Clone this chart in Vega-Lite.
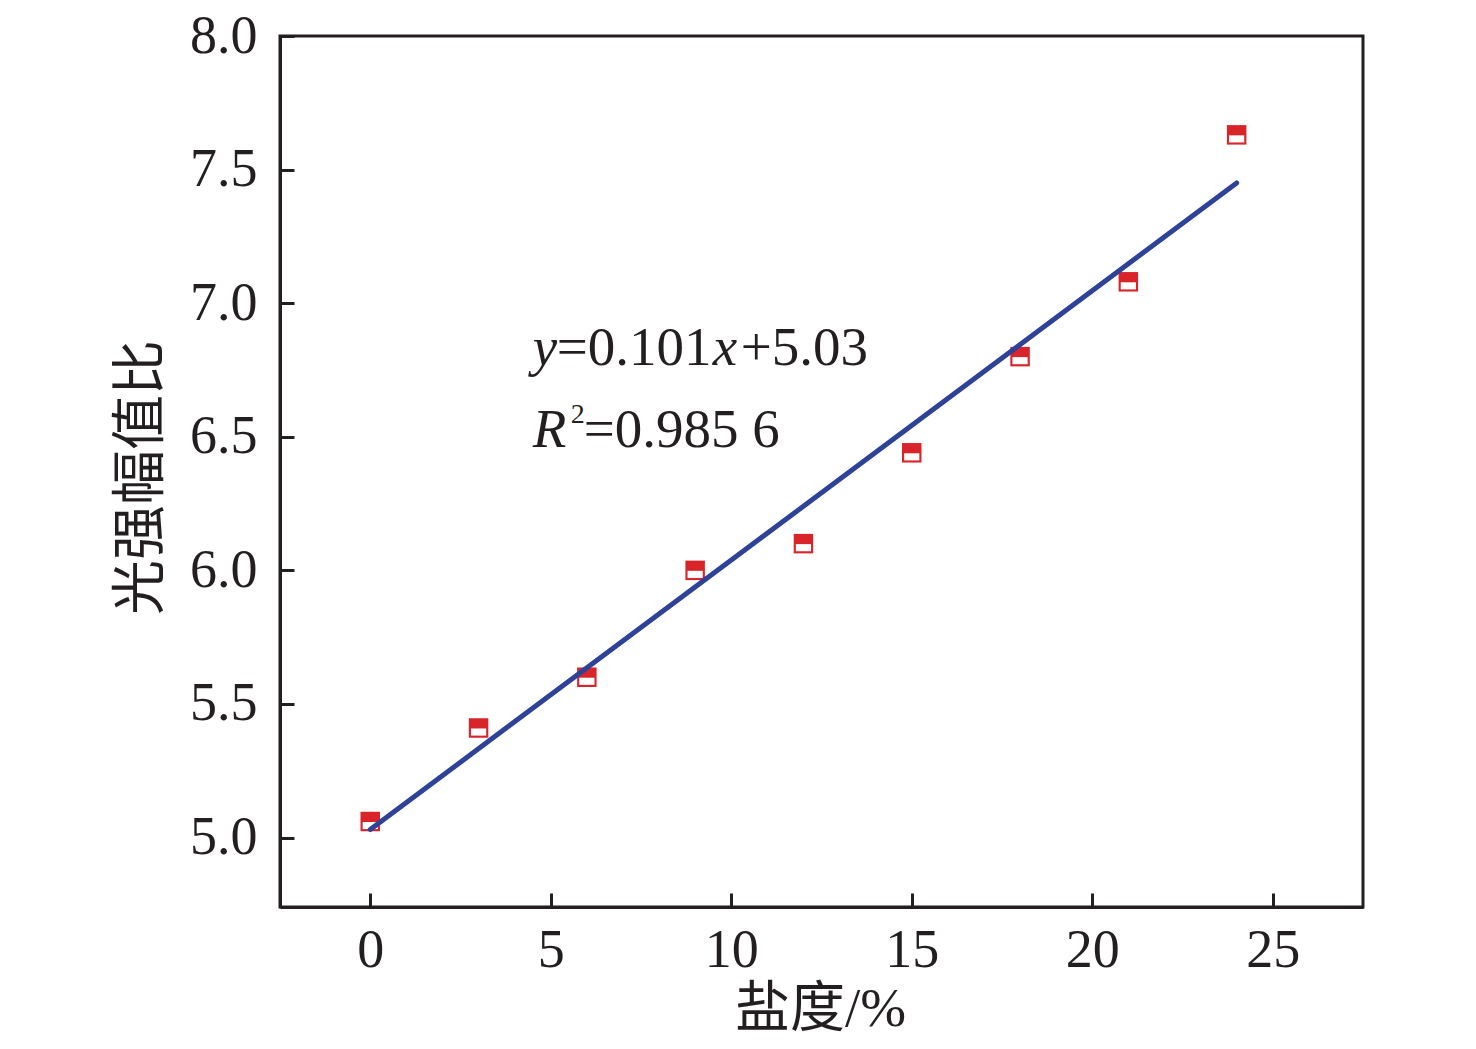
{
  "$schema": "https://vega.github.io/schema/vega-lite/v6.json",
  "description": "Light intensity amplitude ratio vs salinity with linear fit",
  "autosize": {"type": "none"},
  "width": 1083,
  "height": 871,
  "padding": {"left": 280, "top": 36, "right": 113, "bottom": 142},
  "background": "white",
  "config": {
    "view": {"stroke": "#231f20", "strokeWidth": 3},
    "font": "Liberation Serif, Noto Sans CJK SC",
    "axis": {
      "grid": false,
      "domainColor": "#231f20",
      "domainWidth": 3,
      "tickColor": "#231f20",
      "tickWidth": 3,
      "tickSize": -14,
      "labelFont": "Liberation Serif",
      "labelFontSize": 54,
      "labelColor": "#231f20",
      "titleFont": "Liberation Serif, Noto Sans CJK SC",
      "titleFontSize": 55,
      "titleFontWeight": "normal",
      "titleColor": "#231f20"
    }
  },
  "layer": [
    {
      "data": {
        "values": [
          {"salinity": 0, "ratio": 5.06},
          {"salinity": 3, "ratio": 5.41},
          {"salinity": 6, "ratio": 5.6},
          {"salinity": 9, "ratio": 6.0},
          {"salinity": 12, "ratio": 6.1},
          {"salinity": 15, "ratio": 6.44},
          {"salinity": 18, "ratio": 6.8},
          {"salinity": 21, "ratio": 7.08},
          {"salinity": 24, "ratio": 7.63}
        ]
      },
      "layer": [
        {
          "mark": {"type": "point", "shape": "square", "filled": true, "size": 380, "color": "#d9252a", "opacity": 1},
          "encoding": {
            "x": {
              "field": "salinity", "type": "quantitative",
              "scale": {"domain": [-2.5, 27.5], "nice": false, "zero": false},
              "axis": {
                "values": [0, 5, 10, 15, 20, 25],
                "labelPadding": 30,
                "title": "盐度/%",
                "titleX": 540,
                "titleY": 101,
                "titleBaseline": "middle",
                "titleAlign": "center"
              }
            },
            "y": {
              "field": "ratio", "type": "quantitative",
              "scale": {"domain": [4.74, 8.0], "nice": false, "zero": false},
              "axis": {
                "values": [5.0, 5.5, 6.0, 6.5, 7.0, 7.5, 8.0],
                "format": ".1f",
                "labelPadding": 37,
                "title": "光强幅值比",
                "titleX": -140,
                "titleY": 441,
                "titleAngle": -90,
                "titleBaseline": "middle",
                "titleAlign": "center"
              }
            }
          }
        },
        {
          "mark": {"type": "point", "shape": "M -0.78 0.05 H 0.78 V 0.78 H -0.78 Z", "filled": true, "size": 380, "color": "white", "opacity": 1},
          "encoding": {
            "x": {"field": "salinity", "type": "quantitative"},
            "y": {"field": "ratio", "type": "quantitative"}
          }
        }
      ]
    },
    {
      "data": {
        "values": [
          {"salinity": 0, "ratio": 5.03},
          {"salinity": 24, "ratio": 7.45}
        ]
      },
      "mark": {"type": "line", "color": "#2e4297", "strokeWidth": 5, "strokeCap": "round"},
      "encoding": {
        "x": {"field": "salinity", "type": "quantitative"},
        "y": {"field": "ratio", "type": "quantitative"}
      }
    },
    {
      "data": {"values": [{"salinity": 4.5, "ratio": 6.769, "t": "y"}]},
      "mark": {"type": "text", "align": "left", "baseline": "alphabetic", "fontSize": 55, "fontStyle": "italic", "font": "Liberation Serif", "color": "#231f20"},
      "encoding": {
        "x": {"field": "salinity", "type": "quantitative"},
        "y": {"field": "ratio", "type": "quantitative"},
        "text": {"field": "t"}
      }
    },
    {
      "data": {"values": [{"salinity": 4.5, "ratio": 6.769, "t": "=0.101"}]},
      "mark": {"type": "text", "align": "left", "baseline": "alphabetic", "fontSize": 55, "dx": 24, "font": "Liberation Serif", "color": "#231f20"},
      "encoding": {
        "x": {"field": "salinity", "type": "quantitative"},
        "y": {"field": "ratio", "type": "quantitative"},
        "text": {"field": "t"}
      }
    },
    {
      "data": {"values": [{"salinity": 4.5, "ratio": 6.769, "t": "x"}]},
      "mark": {"type": "text", "align": "left", "baseline": "alphabetic", "fontSize": 55, "fontStyle": "italic", "dx": 180, "font": "Liberation Serif", "color": "#231f20"},
      "encoding": {
        "x": {"field": "salinity", "type": "quantitative"},
        "y": {"field": "ratio", "type": "quantitative"},
        "text": {"field": "t"}
      }
    },
    {
      "data": {"values": [{"salinity": 4.5, "ratio": 6.769, "t": "+5.03"}]},
      "mark": {"type": "text", "align": "left", "baseline": "alphabetic", "fontSize": 55, "dx": 208, "font": "Liberation Serif", "color": "#231f20"},
      "encoding": {
        "x": {"field": "salinity", "type": "quantitative"},
        "y": {"field": "ratio", "type": "quantitative"},
        "text": {"field": "t"}
      }
    },
    {
      "data": {"values": [{"salinity": 4.5, "ratio": 6.462, "t": "R"}]},
      "mark": {"type": "text", "align": "left", "baseline": "alphabetic", "fontSize": 55, "fontStyle": "italic", "font": "Liberation Serif", "color": "#231f20"},
      "encoding": {
        "x": {"field": "salinity", "type": "quantitative"},
        "y": {"field": "ratio", "type": "quantitative"},
        "text": {"field": "t"}
      }
    },
    {
      "data": {"values": [{"salinity": 4.5, "ratio": 6.462, "t": "2"}]},
      "mark": {"type": "text", "align": "left", "baseline": "alphabetic", "fontSize": 28, "dx": 38, "dy": -24, "font": "Liberation Serif", "color": "#231f20"},
      "encoding": {
        "x": {"field": "salinity", "type": "quantitative"},
        "y": {"field": "ratio", "type": "quantitative"},
        "text": {"field": "t"}
      }
    },
    {
      "data": {"values": [{"salinity": 4.5, "ratio": 6.462, "t": "=0.985 6"}]},
      "mark": {"type": "text", "align": "left", "baseline": "alphabetic", "fontSize": 55, "dx": 51, "font": "Liberation Serif", "color": "#231f20"},
      "encoding": {
        "x": {"field": "salinity", "type": "quantitative"},
        "y": {"field": "ratio", "type": "quantitative"},
        "text": {"field": "t"}
      }
    }
  ]
}
